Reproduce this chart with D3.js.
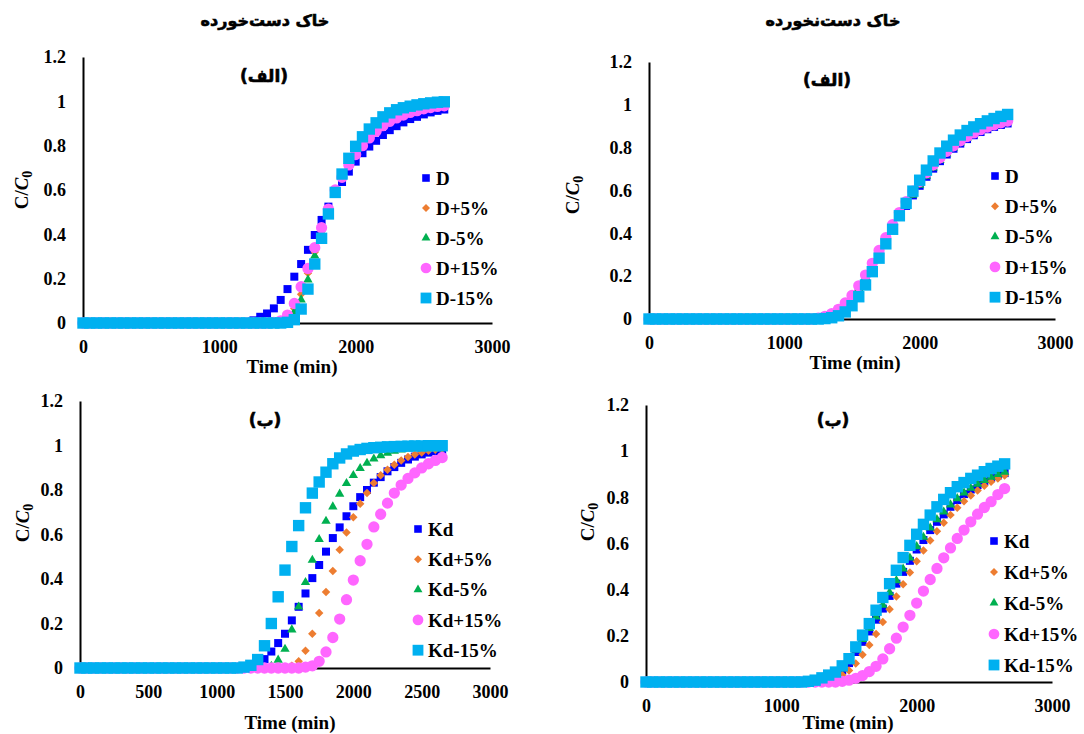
<!DOCTYPE html>
<html>
<head>
<meta charset="utf-8">
<script src="https://cdn.jsdelivr.net/npm/d3@7"></script>
<style>
  body { margin: 0; background: #fff; }
  svg text { font-family: "Liberation Serif", "Times New Roman", serif; font-weight: bold; fill: #000; }
  svg text.fa { font-family: "DejaVu Sans", sans-serif; stroke: #000; stroke-width: 0.6px; }
</style>
</head>
<body>
<svg id="chart" width="1084" height="734"></svg>
<script>
// time steps (min)
const timeMin = [0,50,100,150,200,250,300,350,400,450,500,550,600,650,700,750,800,850,900,950,
  1000,1050,1100,1150,1200,1250,1300,1350,1400,1450,1500,1550,1600,1650,1700,1750,1800,1850,1900,1950,
  2000,2050,2100,2150,2200,2250,2300,2350,2400,2450,2500,2550,2600,2650];

// disturbed soil, D sensitivity
const distD = [0,0,0,0,0,0,0,0,0,0,0,0,0,0,0,0,0,0,0,0,0,0,0,0,
  0.004,0.012,0.028,0.043,0.066,0.104,0.153,0.209,0.266,0.33,0.397,0.465,0.525,0.585,0.636,0.683,0.728,0.766,0.796,0.822,
  0.848,0.87,0.888,0.905,0.92,0.93,0.941,0.95,0.957,0.963];
const distDp5 = [0,0,0,0,0,0,0,0,0,0,0,0,0,0,0,0,0,0,0,0,0,0,0,0,
  0,0,0,0,0.002,0.006,0.02,0.065,0.13,0.225,0.32,0.415,0.505,0.59,0.655,0.715,0.765,0.805,0.84,0.87,
  0.893,0.912,0.928,0.94,0.951,0.96,0.967,0.973,0.978,0.982];
const distDm5 = [0,0,0,0,0,0,0,0,0,0,0,0,0,0,0,0,0,0,0,0,0,0,0,0,
  0,0,0,0,0.001,0.004,0.012,0.05,0.105,0.195,0.303,0.405,0.5,0.59,0.66,0.725,0.775,0.815,0.85,0.88,
  0.902,0.92,0.935,0.947,0.957,0.965,0.972,0.977,0.981,0.985];
const distDp15 = [0,0,0,0,0,0,0,0,0,0,0,0,0,0,0,0,0,0,0,0,0,0,0,0,
  0,0,0,0,0.003,0.01,0.036,0.088,0.164,0.246,0.34,0.43,0.514,0.6,0.657,0.713,0.76,0.8,0.835,0.865,
  0.89,0.91,0.925,0.938,0.95,0.958,0.966,0.972,0.977,0.98];
const distDm15 = [0,0,0,0,0,0,0,0,0,0,0,0,0,0,0,0,0,0,0,0,0,0,0,0,
  0,0,0,0,0,0,0.003,0.015,0.063,0.153,0.266,0.382,0.492,0.589,0.672,0.743,0.797,0.84,0.875,0.903,
  0.93,0.948,0.962,0.971,0.978,0.984,0.989,0.993,0.996,0.998];

// undisturbed soil, D sensitivity
const undD = [0,0,0,0,0,0,0,0,0,0,0,0,0,0,0,0,0,0,0,0,0,0,0,0,
  0.002,0.006,0.012,0.024,0.043,0.07,0.104,0.147,0.196,0.25,0.307,0.365,0.422,0.477,0.528,0.577,0.622,0.664,0.702,0.737,
  0.768,0.795,0.819,0.84,0.858,0.873,0.886,0.897,0.906,0.913];
const undDp5 = [0,0,0,0,0,0,0,0,0,0,0,0,0,0,0,0,0,0,0,0,0,0,0,0,
  0.001,0.005,0.011,0.023,0.042,0.069,0.104,0.148,0.198,0.253,0.311,0.37,0.428,0.484,0.536,0.585,0.63,0.672,0.71,0.744,
  0.775,0.802,0.826,0.847,0.864,0.879,0.892,0.903,0.912,0.92];
const undDm5 = [0,0,0,0,0,0,0,0,0,0,0,0,0,0,0,0,0,0,0,0,0,0,0,0,
  0.001,0.004,0.01,0.021,0.04,0.066,0.1,0.143,0.193,0.247,0.305,0.364,0.422,0.478,0.53,0.579,0.625,0.667,0.706,0.741,
  0.772,0.799,0.823,0.844,0.862,0.877,0.89,0.901,0.91,0.918];
const undDp15 = [0,0,0,0,0,0,0,0,0,0,0,0,0,0,0,0,0,0,0,0,0,0,0,0,
  0,0.004,0.012,0.025,0.045,0.075,0.11,0.155,0.205,0.26,0.32,0.38,0.44,0.497,0.548,0.597,0.642,0.683,0.72,0.753,
  0.783,0.809,0.832,0.852,0.869,0.884,0.896,0.907,0.916,0.924];
const undDm15 = [0,0,0,0,0,0,0,0,0,0,0,0,0,0,0,0,0,0,0,0,0,0,0,0,
  0,0,0.002,0.006,0.015,0.033,0.062,0.104,0.159,0.221,0.284,0.351,0.419,0.482,0.54,0.597,0.648,0.695,0.738,0.775,
  0.807,0.835,0.859,0.88,0.897,0.912,0.925,0.936,0.946,0.955];

// disturbed soil, Kd sensitivity
const distK = [0,0,0,0,0,0,0,0,0,0,0,0,0,0,0,0,0,0,0,0,0,0,0,0,
  0.002,0.005,0.02,0.04,0.074,0.112,0.154,0.214,0.275,0.335,0.404,0.463,0.523,0.584,0.632,0.682,0.727,0.768,0.8,0.833,
  0.858,0.884,0.903,0.922,0.937,0.95,0.96,0.968,0.975,0.98];
const distKp5 = [0,0,0,0,0,0,0,0,0,0,0,0,0,0,0,0,0,0,0,0,0,0,0,0,
  0,0,0,0,0,0.001,0.003,0.01,0.03,0.078,0.154,0.247,0.342,0.436,0.531,0.609,0.677,0.738,0.787,0.831,
  0.866,0.891,0.914,0.933,0.948,0.96,0.969,0.976,0.981,0.985];
const distKm5 = [0,0,0,0,0,0,0,0,0,0,0,0,0,0,0,0,0,0,0,0,0,0,0,0,
  0,0,0,0.002,0.008,0.036,0.085,0.172,0.275,0.385,0.485,0.578,0.66,0.725,0.782,0.83,0.866,0.897,0.921,0.94,
  0.955,0.966,0.975,0.981,0.986,0.989,0.992,0.994,0.995,0.996];
const distKp15 = [0,0,0,0,0,0,0,0,0,0,0,0,0,0,0,0,0,0,0,0,0,0,0,0,
  0,0,0,0,0,0,0,0,0,0.004,0.01,0.03,0.072,0.137,0.22,0.307,0.395,0.482,0.556,0.634,
  0.691,0.741,0.786,0.822,0.852,0.877,0.899,0.918,0.933,0.946];
const distKm15 = [0,0,0,0,0,0,0,0,0,0,0,0,0,0,0,0,0,0,0,0,0,0,0,0,
  0.004,0.012,0.038,0.1,0.2,0.32,0.44,0.546,0.64,0.72,0.786,0.836,0.88,0.918,0.944,0.962,0.975,0.982,0.987,0.99,
  0.992,0.994,0.995,0.996,0.997,0.998,0.998,0.999,0.999,0.999];

// undisturbed soil, Kd sensitivity
const undK = [0,0,0,0,0,0,0,0,0,0,0,0,0,0,0,0,0,0,0,0,0,0,0,0,
  0,0.003,0.008,0.017,0.03,0.05,0.082,0.13,0.174,0.219,0.27,0.318,0.373,0.426,0.477,0.525,0.574,0.615,0.658,0.694,
  0.726,0.759,0.788,0.814,0.834,0.853,0.869,0.883,0.895,0.905];
const undKp5 = [0,0,0,0,0,0,0,0,0,0,0,0,0,0,0,0,0,0,0,0,0,0,0,0,
  0,0,0.002,0.005,0.015,0.03,0.05,0.08,0.118,0.16,0.208,0.26,0.315,0.37,0.423,0.474,0.523,0.57,0.613,0.653,
  0.69,0.724,0.755,0.783,0.808,0.83,0.85,0.867,0.882,0.895];
const undKm5 = [0,0,0,0,0,0,0,0,0,0,0,0,0,0,0,0,0,0,0,0,0,0,0,0,
  0,0.004,0.01,0.02,0.035,0.058,0.09,0.14,0.185,0.233,0.283,0.333,0.388,0.44,0.49,0.538,0.587,0.628,0.668,0.704,
  0.737,0.768,0.795,0.82,0.84,0.858,0.874,0.888,0.9,0.91];
const undKp15 = [0,0,0,0,0,0,0,0,0,0,0,0,0,0,0,0,0,0,0,0,0,0,0,0,
  0,0,0,0,0,0.003,0.008,0.016,0.028,0.045,0.068,0.1,0.144,0.19,0.238,0.289,0.342,0.394,0.444,0.492,
  0.538,0.581,0.622,0.658,0.694,0.727,0.756,0.781,0.812,0.838];
const undKm15 = [0,0,0,0,0,0,0,0,0,0,0,0,0,0,0,0,0,0,0,0,0,0,0,0,
  0.003,0.008,0.018,0.03,0.043,0.07,0.101,0.152,0.203,0.253,0.311,0.366,0.426,0.484,0.539,0.592,0.64,0.683,0.723,0.759,
  0.791,0.82,0.846,0.864,0.882,0.896,0.911,0.925,0.935,0.945];

const dNames = ["D", "D+5%", "D-5%", "D+15%", "D-15%"];
const kdNames = ["Kd", "Kd+5%", "Kd-5%", "Kd+15%", "Kd-15%"];
const yTicks = [0, 0.2, 0.4, 0.6, 0.8, 1, 1.2];
const xTicksWide = [0, 1000, 2000, 3000];
const xTicksFine = [0, 500, 1000, 1500, 2000, 2500, 3000];

// marker look for each of the five series, in legend order
const diamond = {draw(ctx, size) { const r = Math.sqrt(size) / 2; ctx.moveTo(0, -r); ctx.lineTo(r, 0); ctx.lineTo(0, r); ctx.lineTo(-r, 0); ctx.closePath(); }};
const markers = [
  {sym: d3.symbolSquare, size: 64, color: "#0000FF"},
  {sym: diamond, size: 72, color: "#ED7D31"},
  {sym: d3.symbolTriangle, size: 38, color: "#00B050"},
  {sym: d3.symbolCircle, size: 100, color: "#FF66FF"},
  {sym: d3.symbolSquare, size: 130, color: "#00B0F0"}
];

const panels = [
  {title: "خاک دست‌خورده", tag: "(الف)", names: dNames, series: [distD, distDp5, distDm5, distDp15, distDm15],
   xr: [83, 492], yr: [323, 57], xTicks: xTicksWide, titleX: 265, titleY: 20, tagX: 264, tagY: 76,
   yLab: [21, 190], xLab: [292, 366], legX: 426, legY: 178, legStep: 30},
  {title: "خاک دست‌نخورده", tag: "(الف)", names: dNames, series: [undD, undDp5, undDm5, undDp15, undDm15],
   xr: [649, 1055], yr: [319, 62], xTicks: xTicksWide, titleX: 833, titleY: 20, tagX: 827, tagY: 80,
   yLab: [572, 195], xLab: [855, 362], legX: 995, legY: 176, legStep: 30.3},
  {title: null, tag: "(ب)", names: kdNames, series: [distK, distKp5, distKm5, distKp15, distKm15],
   xr: [80, 490], yr: [668, 401], xTicks: xTicksFine, tagX: 265, tagY: 420,
   yLab: [22, 523], xLab: [290, 722], legX: 418, legY: 529, legStep: 30.3},
  {title: null, tag: "(ب)", names: kdNames, series: [undK, undKp5, undKm5, undKp15, undKm15],
   xr: [646, 1052], yr: [682, 405], xTicks: xTicksWide, tagX: 833, tagY: 420,
   yLab: [587, 522], xLab: [848, 722], legX: 994, legY: 541, legStep: 31}
];

const svg = d3.select("#chart");

panels.forEach(p => {
  const x = d3.scaleLinear().domain([0, 3000]).range(p.xr);
  const y = d3.scaleLinear().domain([0, 1.2]).range(p.yr);
  const g = svg.append("g");

  if (p.title) {
    g.append("text").attr("class", "fa")
      .attr("x", p.titleX).attr("y", p.titleY).attr("dy", "0.35em")
      .attr("text-anchor", "middle").attr("font-size", 16).text(p.title);
  }

  // axes
  g.append("g").attr("transform", `translate(0,${p.yr[0]})`)
    .call(d3.axisBottom(x).tickValues(p.xTicks).tickSize(0).tickSizeOuter(0).tickPadding(17).tickFormat(d => d))
    .call(a => a.attr("font-family", null).attr("font-size", null))
    .call(a => a.select(".domain").attr("stroke", "#000").attr("stroke-width", 2))
    .call(a => a.selectAll("text").attr("font-size", 18));

  g.append("g").attr("transform", `translate(${p.xr[0]},0)`)
    .call(d3.axisLeft(y).tickValues(yTicks).tickSize(0).tickSizeOuter(0).tickPadding(17).tickFormat(d => d))
    .call(a => a.attr("font-family", null).attr("font-size", null))
    .call(a => a.select(".domain").attr("stroke", "#000").attr("stroke-width", 2))
    .call(a => a.selectAll("text").attr("font-size", 18));

  // axis titles
  g.append("text").attr("x", p.xLab[0]).attr("y", p.xLab[1]).attr("dy", "0.35em")
    .attr("text-anchor", "middle").attr("font-size", 19).text("Time (min)");

  const yl = g.append("text").attr("transform", `translate(${p.yLab[0]},${p.yLab[1]}) rotate(-90)`)
    .attr("text-anchor", "middle").attr("dy", "0.35em").attr("font-size", 19);
  yl.append("tspan").text("C/");
  yl.append("tspan").attr("font-style", "italic").text("C");
  yl.append("tspan").attr("font-size", 14).attr("dy", 4).text("0");

  g.append("text").attr("class", "fa")
    .attr("x", p.tagX).attr("y", p.tagY).attr("dy", "0.35em")
    .attr("text-anchor", "middle").attr("font-size", 17).text(p.tag);

  // markers
  p.series.forEach((vals, i) => {
    const m = markers[i];
    const sym = d3.symbol().type(m.sym).size(m.size);
    g.append("g").selectAll("path")
      .data(timeMin.map((t, j) => [t, vals[j]]))
      .join("path")
      .attr("d", sym)
      .attr("transform", d => `translate(${x(d[0])},${y(d[1])})`)
      .attr("fill", m.color);
  });

  // legend
  p.names.forEach((name, i) => {
    const m = markers[i];
    const ly = p.legY + i * p.legStep;
    g.append("path").attr("d", d3.symbol().type(m.sym).size(m.size * 0.9)())
      .attr("transform", `translate(${p.legX},${ly})`).attr("fill", m.color);
    g.append("text").attr("x", p.legX + 10).attr("y", ly).attr("dy", "0.35em")
      .attr("font-size", 19).text(name);
  });
});
</script>
</body>
</html>
